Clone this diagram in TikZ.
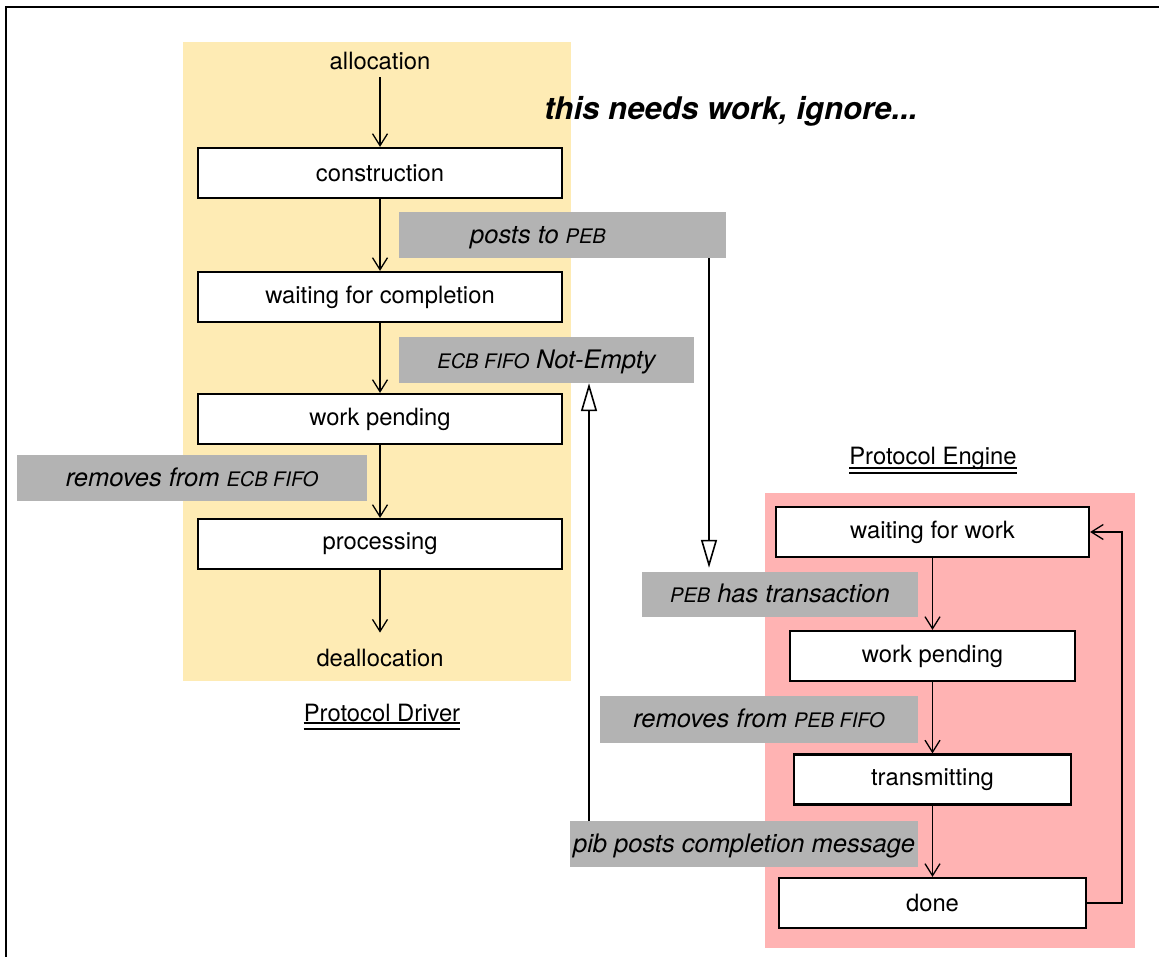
\documentclass[tikz,border=0pt]{standalone}
\usepackage{fontspec}
\setmainfont{TeX Gyre Heros}
\usetikzlibrary{arrows.meta}
\definecolor{driverbg}{HTML}{FEEBB4}
\definecolor{enginebg}{HTML}{FFB3B3}
\definecolor{msggray}{HTML}{B3B3B3}
% reduced capitals for acronyms
\newcommand\acr[1]{{\fontsize{20}{22}\selectfont #1}}
\begin{document}
\begin{tikzpicture}[x=1pt,y=-1pt,
  txt/.style={font=\fontsize{23.8}{27}\selectfont},
  statebox/.style={txt, draw, line width=2.2pt, fill=white, inner sep=0pt, minimum height=50pt},
  msgbox/.style={font=\fontsize{25.5}{29}\selectfont\itshape, fill=msggray, inner sep=0pt, text height=17.5pt, text depth=1pt},
  flow/.style={line width=1.6pt, -{Straight Barb[length=12pt,width=15pt,line width=1.3pt]}},
  msg/.style={line width=1.6pt, -{Triangle[open,fill=white,length=28pt,width=16pt,line width=1.6pt]}},
  title/.style={txt, text height=17pt, text depth=5pt, inner sep=0pt}
]
\useasboundingbox (0,0) rectangle (1159,957);
% outer frame (top and left edges)
\draw[line width=2pt] (6,957) -- (6,7) -- (1159,7);
% swimlane backgrounds
\fill[driverbg] (183,42) rectangle (571,681);
\fill[enginebg] (765,493) rectangle (1135,948);

\node[font=\fontsize{31.2}{35}\selectfont\bfseries\itshape] (note) at (731,111) {this needs work, ignore...};

% Protocol Driver states
\node[txt] (alloc) at (380,61) {allocation};
\node[statebox, minimum width=364pt] (cons) at (380,173) {construction};
\node[statebox, minimum width=364pt] (wait) at (380,297) {waiting for completion};
\node[statebox, minimum width=364pt] (dpend) at (380,419) {work pending};
\node[statebox, minimum width=364pt] (proc) at (380,544) {processing};
\node[txt] (dealloc) at (380,658) {deallocation};
\node[title, anchor=base] (pd) at (382,721) {Protocol Driver};
\draw[line width=1.5pt] ([yshift=-2pt]pd.base west) -- ([yshift=-2pt]pd.base east);
\draw[line width=1.5pt] ([yshift=-8pt]pd.base west) -- ([yshift=-8pt]pd.base east);

% Protocol Engine states
\node[title, anchor=base] (pe) at (933,464) {Protocol Engine};
\draw[line width=1.5pt] ([yshift=-4pt]pe.base west) -- ([yshift=-4pt]pe.base east);
\draw[line width=1.5pt] ([yshift=-9pt]pe.base west) -- ([yshift=-9pt]pe.base east);
\node[statebox, minimum width=313pt] (wfw) at (932.5,532) {waiting for work};
\node[statebox, minimum width=285pt] (epend) at (932.5,656) {work pending};
\node[statebox, minimum width=277pt] (trans) at (932.5,779.5) {transmitting};
\node[statebox, minimum width=307pt] (done) at (932.5,903) {done};

% message labels
\node[msgbox, minimum width=327pt, minimum height=46pt] (posts) at (562.5,235) {posts to \acr{PEB}\hspace*{49pt}};
\node[msgbox, minimum width=295pt, minimum height=46pt] (ecb) at (546.5,360) {\acr{ECB FIFO} Not-Empty};
\node[msgbox, minimum width=350pt, minimum height=46pt] (rmecb) at (192,478) {removes from \acr{ECB FIFO}};
\node[msgbox, minimum width=276pt, minimum height=45pt] (peb) at (780,594.5) {\acr{PEB} has transaction};
\node[msgbox, minimum width=318pt, minimum height=47pt] (rmpeb) at (759,719.5) {removes from \acr{PEB FIFO}};
\node[msgbox, minimum width=348pt, minimum height=46pt] (pib) at (744,844) {pib posts completion message};

% driver flow
\draw[flow] (alloc.south) ++(0,4) -- (cons.north);
\draw[flow] (cons) -- (wait);
\draw[flow] (wait) -- (dpend);
\draw[flow] (dpend) -- (proc);
\draw[flow] (proc.south) -- ([yshift=13pt]dealloc.north);

% engine flow
\draw[flow] (wfw) -- (epend);
\draw[flow] (epend) -- (trans);
\draw[flow] (trans) -- (done);
\draw[flow] (done.east) -- ++(35,0) |- (wfw.east);

% messages between the two lanes
\coordinate (postx) at (709,0);
\coordinate (ecbx) at (589,0);
\draw[msg] (posts.south -| postx) -- ([yshift=4pt]peb.north -| postx);
\draw[msg] (pib.north -| ecbx) -- (ecb.south -| ecbx);
\end{tikzpicture}
\end{document}
